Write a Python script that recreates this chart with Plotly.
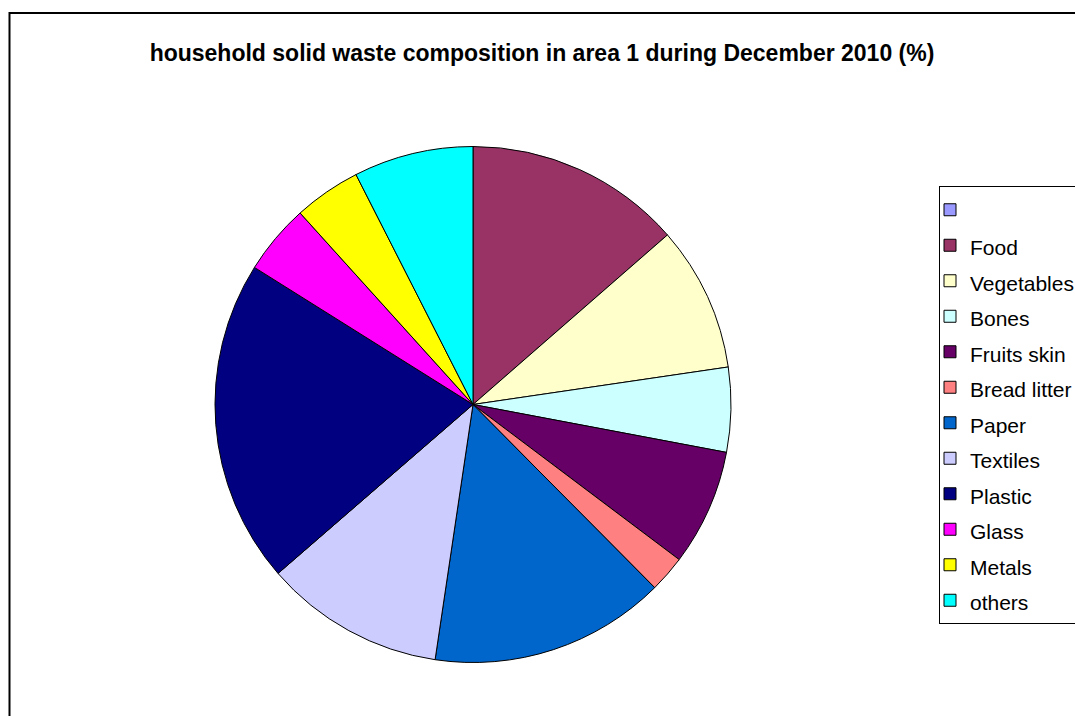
import plotly.graph_objects as go

W, H = 1075, 716

labels = [" ", "Food", "Vegetables", "Bones", "Fruits skin", "Bread litter",
          "Paper", "Textiles", "Plastic", "Glass", "Metals", "others"]
values = [0, 13.6, 9.1, 5.3, 7.3, 2.3, 14.8, 11.3, 20.3, 4.4, 4.2, 7.5]
colors = ["#9999FF", "#993366", "#FFFFCC", "#CCFFFF", "#660066", "#FF8080",
          "#0066CC", "#CCCCFF", "#000080", "#FF00FF", "#FFFF00", "#00FFFF"]

title_text = "household solid waste composition in area 1 during December 2010 (%)"

# legend label text is drawn a bit smaller than the legend row pitch
legend_labels = ["<span style='font-size:21px'>%s</span>" % l for l in labels]

cx, cy, r = 473, 404.5, 258  # pixel layout of pie

fig = go.Figure(go.Pie(
    labels=legend_labels,
    values=values,
    sort=False,
    direction="clockwise",
    rotation=0,
    textinfo="none",
    hoverinfo="label+value",
    marker=dict(colors=colors, line=dict(color="black", width=1)),
    domain=dict(x=[(cx - r) / W, (cx + r) / W],
                y=[(H - cy - r) / H, (H - cy + r) / H]),
))

fig.update_layout(
    width=W, height=H,
    margin=dict(l=0, r=0, t=0, b=0, autoexpand=False),
    paper_bgcolor="white",
    plot_bgcolor="white",
    font=dict(family="Liberation Sans, Arial, sans-serif", color="black"),
    title=dict(text="<b>" + title_text + "</b>", x=542 / W, xanchor="center",
               y=1 - 53 / H, yanchor="middle",
               font=dict(size=23, family="Liberation Sans, Arial, sans-serif", color="black")),
    legend=dict(x=939 / W, xanchor="left", y=1 - 186 / H, yanchor="top",
                bordercolor="black", borderwidth=1, bgcolor="white",
                indentation=-10,
                font=dict(size=25, family="Liberation Sans, Arial, sans-serif", color="black"),
                itemclick=False, itemdoubleclick=False),
    shapes=[dict(type="rect", xref="paper", yref="paper",
                 x0=9.5 / W, x1=1.05, y0=-0.05, y1=1 - 13 / H,
                 line=dict(color="black", width=2), fillcolor="rgba(0,0,0,0)",
                 layer="below")],
)

fig.write_html("out.html")
